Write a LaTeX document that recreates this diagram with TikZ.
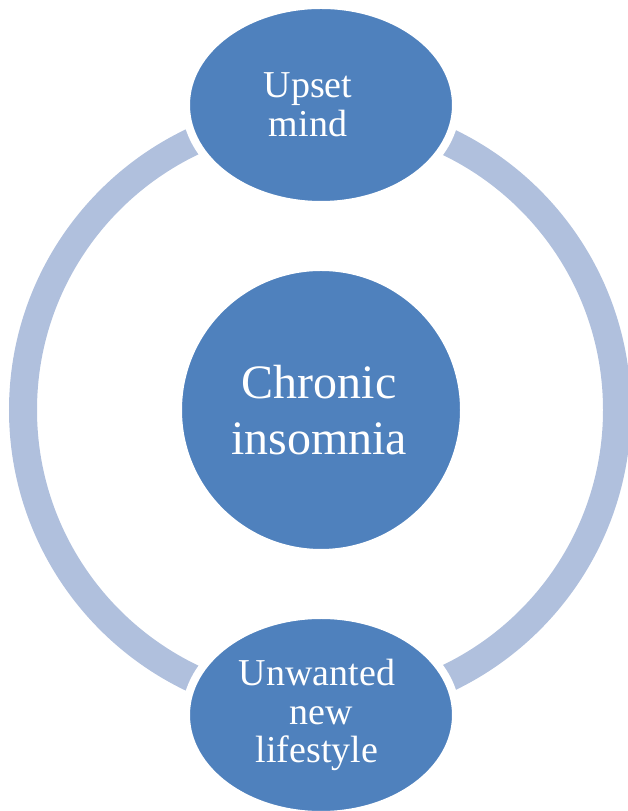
\documentclass[tikz,border=0pt]{standalone}
\usepackage{fontspec}
\setmainfont{Liberation Serif}
\usepackage{xcolor}
\usepackage{tikz}
\usetikzlibrary{positioning,shapes}

\definecolor{cycblue}{RGB}{79,129,189}
\definecolor{ringblue}{RGB}{176,192,221}

\begin{document}
\begin{tikzpicture}[x=1pt,y=1pt]

\tikzstyle{hub}=[circle,fill=cycblue,draw=white,line width=4pt,minimum size=282pt,inner sep=0pt,text=white,align=center,font=\fontsize{48}{56}\selectfont]
\tikzstyle{spoke}=[ellipse,fill=cycblue,draw=white,line width=8pt,minimum width=270pt,minimum height=200pt,inner sep=0pt,text=white,align=center,font=\fontsize{38}{38.5}\selectfont]
\tikzset{ring style/.style={draw=ringblue,line width=28pt}}

\useasboundingbox (0,0) rectangle (628,811);
\clip (0,0) rectangle (628,811);

\node[hub] (core) at (321,401) {Chronic\hspace*{4pt}\\insomnia\hspace*{4pt}};

% the cycle behind the two outer nodes
\draw[ring style] (320,401) circle[radius=297];

\node[spoke] (mind) at (321,706) {Upset\hspace*{26pt}\\mind\hspace*{26pt}};
\node[spoke] (life) at (321,96) {Unwanted\hspace*{8pt}\\new\hspace*{8pt}\\lifestyle\hspace*{8pt}};

\end{tikzpicture}
\end{document}
